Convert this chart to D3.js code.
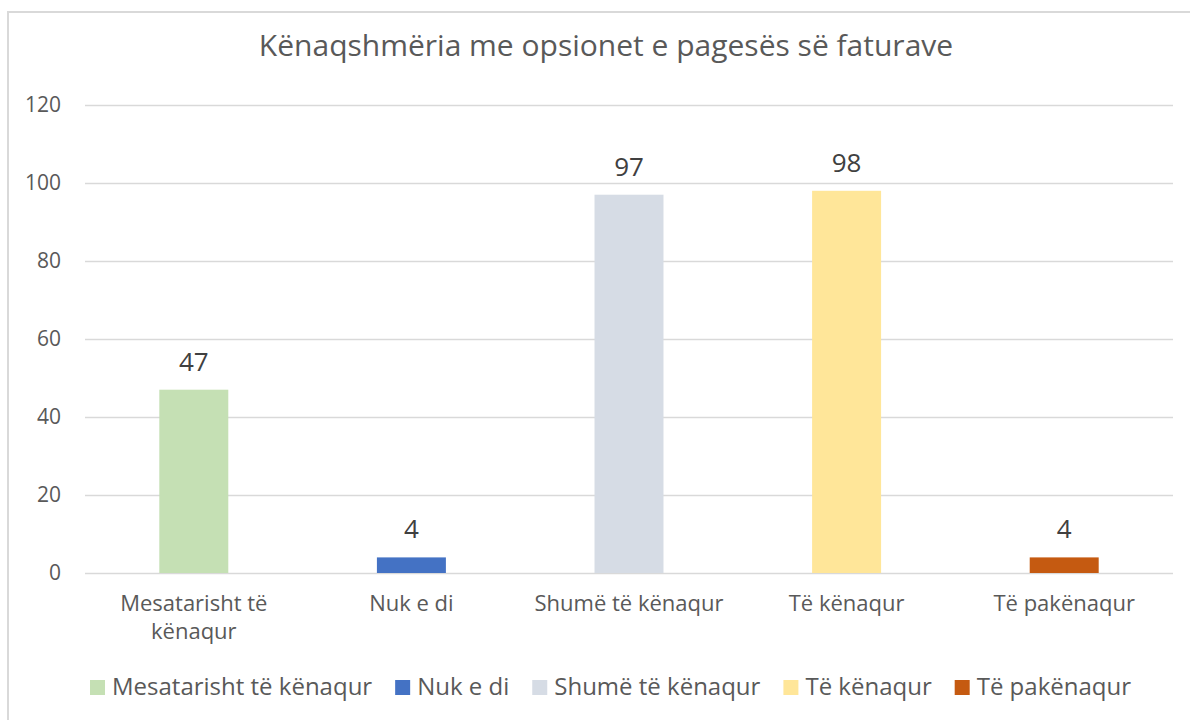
<!DOCTYPE html>
<html><head><meta charset="utf-8">
<script src="https://cdn.jsdelivr.net/npm/d3@7"></script>
<style>body{margin:0;background:#fff;} svg{display:block;font-family:"Open Sans",sans-serif;}</style>
</head><body>
<svg id="c" width="1190" height="720"></svg>
<script>
const title = "Kënaqshmëria me opsionet e pagesës së faturave";
const categories = ["Mesatarisht të kënaqur","Nuk e di","Shumë të kënaqur","Të kënaqur","Të pakënaqur"];
const axisLabels = [["Mesatarisht të","kënaqur"],["Nuk e di"],["Shumë të kënaqur"],["Të kënaqur"],["Të pakënaqur"]];
const values = [47,4,97,98,4];
const colors = ["#c5e0b4","#4472c4","#d6dce5","#ffe699","#c55a11"];
const yTicks = [0,20,40,60,80,100,120];

const svg = d3.select("#c");
svg.append("rect").attr("x",8).attr("y",12).attr("width",1300).attr("height",900)
  .attr("fill","#fff").attr("stroke","#d9d9d9").attr("stroke-width",2);

const L=85,R=1173,T=105,B=573;
const x = d3.scaleBand().domain(categories).range([L,R]).paddingInner(0.683).paddingOuter(0.3415);
const y = d3.scaleLinear().domain([0,120]).range([B,T]);

svg.append("text").attr("x",606).attr("y",56).attr("text-anchor","middle")
  .attr("font-size",30).attr("fill","#595959").text(title);

const ga = svg.append("g").attr("transform",`translate(${L},0)`)
  .call(d3.axisLeft(y).tickValues(yTicks).tickSize(-(R-L)).tickPadding(24));
ga.select(".domain").remove();
ga.selectAll(".tick line").attr("stroke","#d9d9d9").attr("stroke-width",1.5);
ga.selectAll(".tick text").attr("font-size",21).attr("fill","#595959").attr("font-family","Open Sans");

svg.selectAll(".bar").data(values).join("rect").attr("class","bar")
  .attr("x",(d,i)=>x(categories[i])).attr("width",x.bandwidth())
  .attr("y",d=>y(d)).attr("height",d=>y(0)-y(d)).attr("fill",(d,i)=>colors[i]);

svg.selectAll(".lbl").data(values).join("text").attr("class","lbl")
  .attr("x",(d,i)=>x(categories[i])+x.bandwidth()/2).attr("y",d=>y(d)-19)
  .attr("text-anchor","middle").attr("font-size",26).attr("fill","#404040").text(d=>d);

const gx = svg.append("g");
categories.forEach((c,i)=>{
  const t = gx.append("text").attr("x",x(c)+x.bandwidth()/2).attr("y",611)
    .attr("text-anchor","middle").attr("font-size",22).attr("fill","#595959");
  axisLabels[i].forEach((s,j)=>t.append("tspan").attr("x",x(c)+x.bandwidth()/2).attr("dy",j?28:0).text(s));
});

// legend
const lg = svg.append("g");
let cx=0;
const gap = 23;
categories.forEach((c,i)=>{
  const g = lg.append("g");
  g.append("rect").attr("x",0).attr("y",-15).attr("width",15).attr("height",15).attr("fill",colors[i]);
  const t = g.append("text").attr("x",22).attr("y",0).attr("font-size",24).attr("fill","#595959").text(c);
  const w = 22 + t.node().getComputedTextLength();
  g.attr("transform",`translate(${cx},0)`);
  cx += w + gap;
});
const total = cx-gap;
lg.attr("transform",`translate(${610.5-total/2},695)`);
</script>
</body></html>
